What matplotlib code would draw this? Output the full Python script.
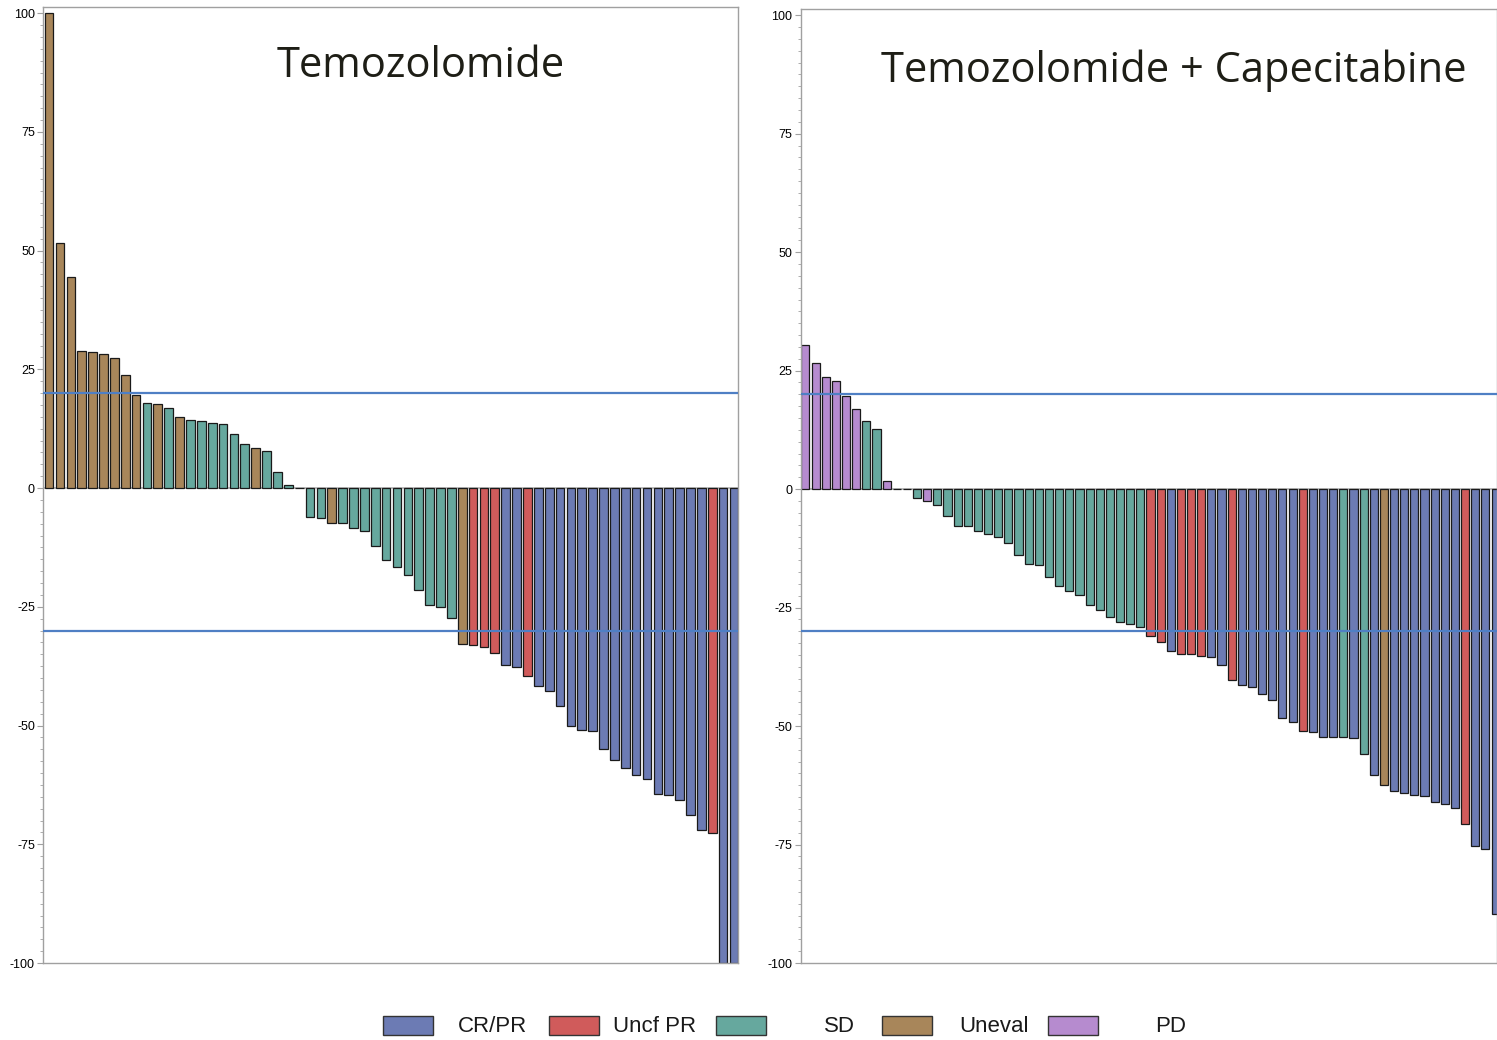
import matplotlib
matplotlib.use("Agg")
import matplotlib.pyplot as plt
import numpy as np
from matplotlib.patches import Rectangle
from matplotlib.ticker import MultipleLocator

plt.rcParams["axes.unicode_minus"] = False

# best % change from baseline, one bar per patient
tmz_change = [100, 51.7, 44.4, 28.8, 28.6, 28.2, 27.4, 23.8, 19.6, 17.9, 17.7, 16.8,
              15.0, 14.3, 14.2, 13.8, 13.4, 11.4, 9.3, 8.5, 7.9, 3.4, 0.7, 0,
              -6.0, -6.4, -7.4, -7.4, -8.5, -9.1, -12.1, -15.2, -16.7, -18.3, -21.5, -24.6,
              -25.1, -27.3, -32.8, -33.1, -33.4, -34.8, -37.3, -37.6, -39.6, -41.7, -42.7, -45.9,
              -50.1, -51.0, -51.2, -55.0, -57.3, -58.9, -60.5, -61.3, -64.4, -64.6, -65.7, -68.8,
              -72.0, -72.7, -100, -100]
tmz_resp = ["E"] * 9 + ["S", "E", "S", "E"] + ["S"] * 6 + ["E"] + ["S"] * 6 + ["E"] \
    + ["S"] * 11 + ["E", "U", "U", "U", "C", "C", "U"] + ["C"] * 16 + ["U", "C", "C"]

capetmz_change = [30.5, 26.7, 23.6, 22.8, 19.7, 16.9, 14.3, 12.7, 1.8, 0, 0, -1.8,
                  -2.5, -3.3, -5.7, -7.7, -7.8, -8.8, -9.5, -10.2, -11.4, -13.8, -15.8, -16.1,
                  -18.6, -20.5, -21.6, -22.4, -24.4, -25.6, -27.0, -28.1, -28.5, -29.1, -31.0, -32.2,
                  -34.2, -34.7, -34.8, -35.2, -35.4, -37.1, -40.3, -41.4, -41.7, -43.3, -44.4, -48.4,
                  -49.1, -51.1, -51.2, -52.2, -52.2, -52.2, -52.5, -55.8, -60.4, -62.5, -63.8, -64.1,
                  -64.6, -64.8, -66.1, -66.5, -67.2, -70.7, -75.4, -75.9, -89.7]
capetmz_resp = ["P"] * 6 + ["S", "S", "P", "S", "S", "S", "P"] + ["S"] * 21 \
    + ["U", "U", "C", "U", "U", "U", "C", "C", "U"] + ["C"] * 6 + ["U", "C", "C", "C", "S", "C", "S", "C", "E"] \
    + ["C"] * 7 + ["U", "C", "C", "C"]

resp_codes = ["C", "U", "S", "E", "P"]
resp_labels = ["CR/PR", "Uncf PR", "SD", "Uneval", "PD"]
resp_colors = {"C": "#6c7bb4", "U": "#d05b5b", "S": "#66a89e", "E": "#a8865a", "P": "#b68bcf"}

fig = plt.figure(figsize=(14.97, 10.4), dpi=100)

panels = [
    (tmz_change, tmz_resp, "Temozolomide", [0.0289, 0.0740, 0.4643, 0.9193], (-0.54, 63.4)),
    (capetmz_change, capetmz_resp, "Temozolomide + Capecitabine", [0.5349, 0.0740, 0.4651, 0.9173], (-0.46, 68.14)),
]
title_x = [0.281, 0.784]
title_y = [0.937, 0.932]

for i, (vals, resp, title, rect, xl) in enumerate(panels):
    ax = fig.add_axes(rect)
    x = np.arange(len(vals))
    ax.bar(x, vals, width=0.8, color=[resp_colors[r] for r in resp],
           edgecolor="#1a1a1a", linewidth=0.9, zorder=2)
    ax.axhline(0, color="#b5b5b5", lw=1.3, zorder=1)
    ax.axhline(20, color="#4f7fc4", lw=1.6, zorder=3)
    ax.axhline(-30, color="#4f7fc4", lw=1.6, zorder=3)
    ax.set_xlim(*xl)
    ax.set_ylim(-100, 101.3)
    ax.set_xticks([])
    ax.yaxis.set_major_locator(MultipleLocator(25))
    ax.yaxis.set_minor_locator(MultipleLocator(2.5))
    ax.tick_params(axis="y", which="major", length=4, color="#a0a0a0", labelsize=9, pad=2)
    ax.tick_params(axis="y", which="minor", length=2.5, color="#a0a0a0")
    for lab in ax.get_yticklabels():
        lab.set_fontfamily("Liberation Sans")
    for s in ax.spines.values():
        s.set_color("#a0a0a0")
        s.set_linewidth(1.0)
    fig.text(title_x[i], title_y[i], title, ha="center", va="center",
             fontsize=30, color="#1e1e16", family=["Open Sans", "DejaVu Sans"])

# legend row along the bottom
patch_x = [383, 549, 716, 882, 1048]
label_x = [458, 613, 824, 959, 1155]
W, H = 1497.0, 1040.0
for code, lab, px, lx in zip(resp_codes, resp_labels, patch_x, label_x):
    fig.patches.append(Rectangle((px / W, 1 - 1035 / H), 50 / W, 19 / H, transform=fig.transFigure,
                                 facecolor=resp_colors[code], edgecolor="#333333", lw=1.0))
    fig.text(lx / W, 1 - 1027 / H, lab, ha="left", va="center", fontsize=16,
             family=["Liberation Sans Narrow", "Liberation Sans", "DejaVu Sans"], color="#1a1a1a")

fig.savefig("out.png", dpi=100)
